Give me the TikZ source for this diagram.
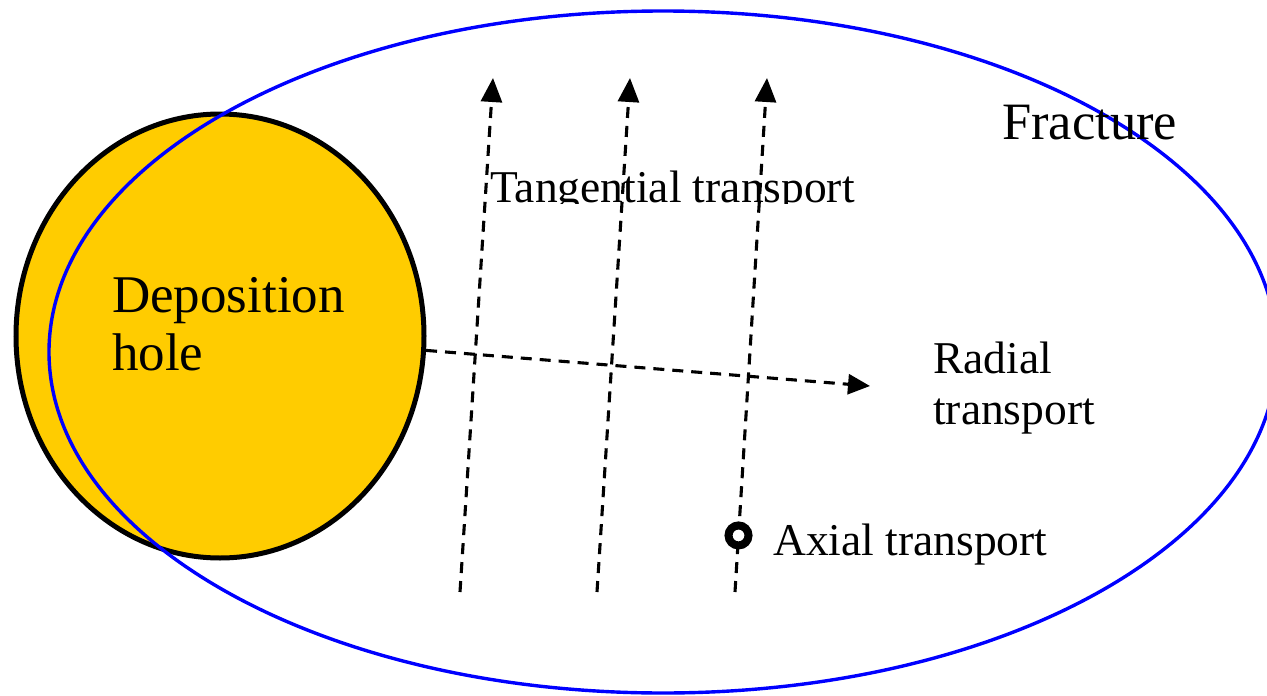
\documentclass[tikz,border=0pt]{standalone}
\usepackage{fontspec}
\setmainfont{Liberation Serif}
\usetikzlibrary{arrows.meta,shapes.geometric,calc}
\definecolor{holeyellow}{HTML}{FFCC00}
\definecolor{fractureblue}{HTML}{0000FF}
\begin{document}
\begin{tikzpicture}[x=1pt,y=-1pt,
  flowline/.style={line width=3.1pt, dash pattern=on 11pt off 8pt, -{Triangle[length=24pt,width=21pt]}},
  bigtext/.style={font=\fontsize{53}{58}\selectfont, inner sep=0pt, anchor=base west, align=left},
  smalltext/.style={font=\fontsize{45.5}{51}\selectfont, inner sep=0pt, anchor=base west, align=left},
  holestyle/.style={ellipse, draw=black, line width=5pt, fill=holeyellow, inner sep=0pt, minimum width=408pt, minimum height=444pt},
  axialmark/.style={circle, draw=black, fill=white, line width=8pt, minimum size=20pt, inner sep=0pt}]
\useasboundingbox (0,0) rectangle (1267,696);
\fill[white] (0,0) rectangle (1267,696);
% deposition hole
\node[holestyle] (hole) at (220,336) {};
% fracture
\draw[fractureblue, line width=3.4pt] (663,352) ellipse [x radius=614, y radius=341];
% labels (base anchor of a multi-line node is the last line's baseline)
\node[bigtext] (deplabel) at (112,370) {Deposition\\hole};
\node[bigtext, font=\fontsize{52.5}{58}\selectfont] (fraclabel) at (1002,139) {Fracture};
\begin{scope}
  \clip (400,140) rectangle (900,203);
  \node[smalltext] (tanglabel) at (490,202) {Tangential transport};
\end{scope}
\node[smalltext] (radlabel) at (933,424) {Radial\\transport};
\node[smalltext] (axlabel) at (773,555) {Axial transport};
% tangential transport lines
\coordinate (t1b) at (460,592); \coordinate (t1t) at (493,78);
\coordinate (t2b) at (597,592); \coordinate (t2t) at (630,78);
\coordinate (t3b) at (735,592); \coordinate (t3t) at (767,78);
\draw[flowline] (t1b) -- (t1t);
\draw[flowline] (t2b) -- (t2t);
\draw[flowline] (t3b) -- (t3t);
% radial transport
\coordinate (radend) at (870,386);
\draw[flowline, -{Triangle[length=22pt,width=20pt]}] (hole.-4.7) -- (radend);
% axial mark
\node[axialmark] (axmark) at ($(t3b)!0.11!(t3t)$) {};
\end{tikzpicture}
\end{document}
